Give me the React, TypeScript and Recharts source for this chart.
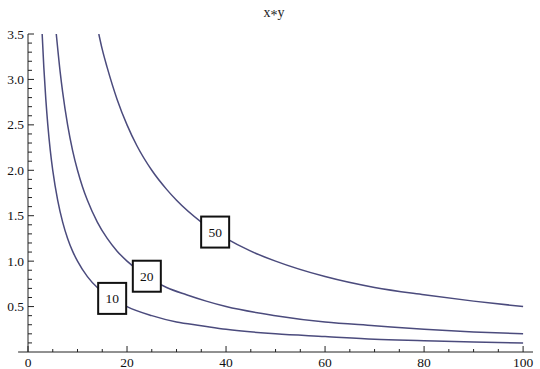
import { LineChart, Line, XAxis, YAxis, ReferenceLine, ReferenceDot } from "recharts";

// contour x*y = 10
const c10X = [2.86, 3.2, 3.6, 4, 4.5, 5, 6, 7, 8, 9, 10, 12, 14, 16, 18, 20, 25, 30, 35, 40, 50, 60, 70, 80, 90, 100];
const c10Y = [3.5, 3.13, 2.78, 2.5, 2.22, 2.0, 1.67, 1.43, 1.25, 1.11, 1.0, 0.83, 0.71, 0.63, 0.56, 0.5, 0.4, 0.33, 0.29, 0.25, 0.2, 0.17, 0.14, 0.125, 0.11, 0.1];
// contour x*y = 20
const c20X = [5.71, 6.5, 7, 8, 9, 10, 11, 12, 14, 16, 18, 20, 24, 28, 32, 36, 40, 50, 60, 70, 80, 90, 100];
const c20Y = [3.5, 3.08, 2.86, 2.5, 2.22, 2.0, 1.82, 1.67, 1.43, 1.25, 1.11, 1.0, 0.83, 0.71, 0.63, 0.56, 0.5, 0.4, 0.33, 0.29, 0.25, 0.22, 0.2];
// contour x*y = 50
const c50X = [14.3, 15, 16, 18, 20, 22, 25, 28, 30, 35, 40, 45, 50, 60, 70, 80, 90, 100];
const c50Y = [3.5, 3.33, 3.13, 2.78, 2.5, 2.27, 2.0, 1.79, 1.67, 1.43, 1.25, 1.11, 1.0, 0.83, 0.71, 0.63, 0.56, 0.5];

const labelX = [17, 24, 37.8];
const labelY = [0.59, 0.834, 1.32];
const labelText = ["10", "20", "50"];

const xTicks = [0, 5, 10, 15, 20, 25, 30, 35, 40, 45, 50, 55, 60, 65, 70, 75, 80, 85, 90, 95, 100];
const yTicks = [0.1, 0.2, 0.3, 0.4, 0.5, 0.6, 0.7, 0.8, 0.9, 1.0, 1.1, 1.2, 1.3, 1.4, 1.5, 1.6, 1.7, 1.8, 1.9, 2.0,
  2.1, 2.2, 2.3, 2.4, 2.5, 2.6, 2.7, 2.8, 2.9, 3.0, 3.1, 3.2, 3.3, 3.4, 3.5];

const toPoints = (xs: number[], ys: number[]) => xs.map((x, i) => ({ x, y: ys[i] }));

const FONT = "Liberation Serif";
const AXIS = "#222";
const CURVE = "#4b4b7d";

function XTick({ x, y, payload }: any) {
  const v = payload.value;
  const major = v % 20 === 0;
  return (
    <g>
      <line x1={x} y1={y} x2={x} y2={y - (major ? 6 : 3)} stroke={AXIS} strokeWidth={1} />
      {major && (
        <text x={x} y={y + 15} textAnchor="middle" style={{ fontFamily: FONT }} fontSize={13.5} fill="#111">
          {v}
        </text>
      )}
    </g>
  );
}

function YTick({ x, y, payload }: any) {
  const v = payload.value;
  const major = Math.round(v * 10) % 5 === 0;
  return (
    <g>
      <line x1={x} y1={y} x2={x + (major ? 6 : 4)} y2={y} stroke={AXIS} strokeWidth={1} />
      {major && (
        <text x={x - 4} y={y + 4.5} textAnchor="end" style={{ fontFamily: FONT }} fontSize={13.5} fill="#111">
          {v.toFixed(1)}
        </text>
      )}
    </g>
  );
}

function labelBox(text: string) {
  return ({ cx, cy }: any) => (
    <g>
      <rect x={cx - 14} y={cy - 15.5} width={28} height={31} fill="#fff" stroke="#111" strokeWidth={2} />
      <text x={cx} y={cy + 4.5} textAnchor="middle" style={{ fontFamily: FONT }} fontSize={13.5} fill="#111">
        {text}
      </text>
    </g>
  );
}

export default function App() {
  return (
    <div style={{ position: "absolute", left: 0, top: 0, width: 540, height: 369, background: "#fff" }}>
      <div
        style={{
          position: "absolute",
          left: 0,
          top: 5,
          width: 548,
          textAlign: "center",
          fontFamily: FONT,
          fontSize: 14,
          color: "#222",
        }}
      >
        x<span style={{ position: "relative", top: 3 }}>*</span>y
      </div>
      <LineChart width={540} height={369} margin={{ top: 34, right: 7, left: 0, bottom: 0 }}>
        <XAxis
          type="number"
          dataKey="x"
          domain={[0, 102]}
          ticks={xTicks}
          interval={0}
          axisLine={false}
          tickLine={false}
          tickSize={0}
          tickMargin={0}
          height={17}
          tick={<XTick />}
          allowDataOverflow
        />
        <YAxis
          type="number"
          dataKey="y"
          domain={[0, 3.5]}
          ticks={yTicks}
          interval={0}
          width={28}
          axisLine={{ stroke: AXIS, strokeWidth: 1 }}
          tickLine={false}
          tickSize={0}
          tickMargin={0}
          tick={<YTick />}
          allowDataOverflow
        />
        <ReferenceLine
          segment={[{ x: -2, y: 0 }, { x: 102, y: 0 }]}
          stroke={AXIS}
          strokeWidth={1}
          ifOverflow="visible"
        />
        <Line data={toPoints(c10X, c10Y)} dataKey="y" type="monotone" stroke={CURVE} strokeWidth={1.5} dot={false} isAnimationActive={false} />
        <Line data={toPoints(c20X, c20Y)} dataKey="y" type="monotone" stroke={CURVE} strokeWidth={1.5} dot={false} isAnimationActive={false} />
        <Line data={toPoints(c50X, c50Y)} dataKey="y" type="monotone" stroke={CURVE} strokeWidth={1.5} dot={false} isAnimationActive={false} />
        {labelText.map((t, i) => (
          <ReferenceDot key={t} x={labelX[i]} y={labelY[i]} ifOverflow="visible" shape={labelBox(t)} />
        ))}
      </LineChart>
    </div>
  );
}
